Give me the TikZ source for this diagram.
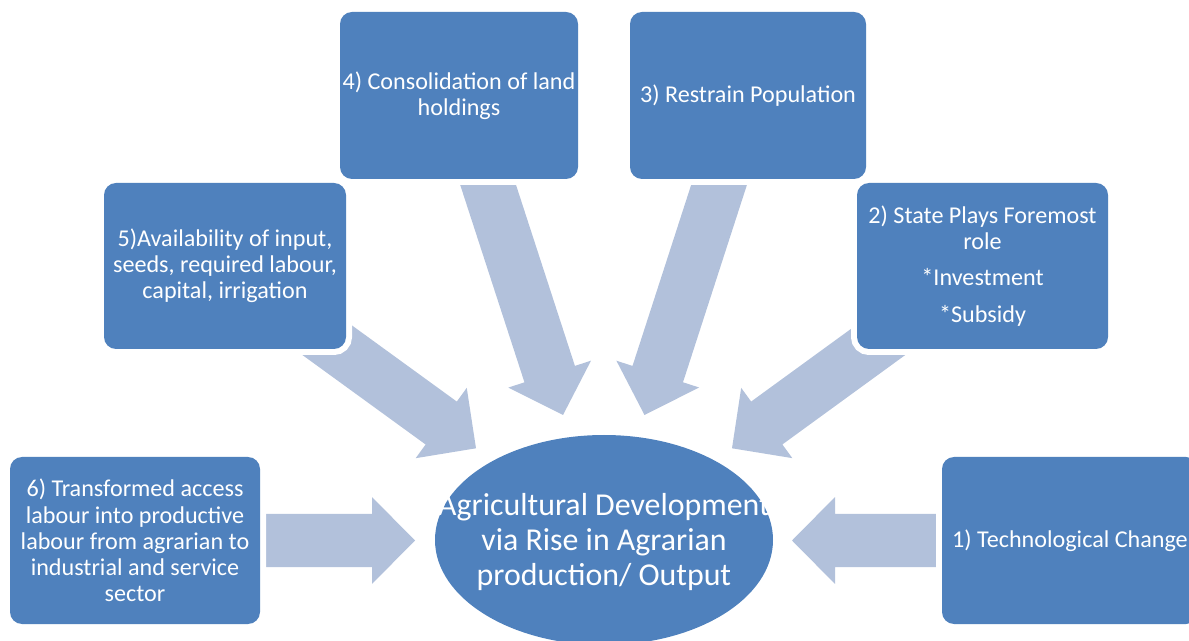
\documentclass[tikz,border=0pt]{standalone}
\usepackage{fontspec}
\setmainfont{Carlito}
\usetikzlibrary{shapes.geometric,calc}
\pgfdeclarelayer{background}
\pgfsetlayers{background,main}
\definecolor{boxblue}{HTML}{4F81BD}
\definecolor{arrowblue}{HTML}{B2C1DB}
\tikzset{
  box/.style={fill=boxblue, rounded corners=9pt, text=white, align=center,
    inner sep=0pt, font=\fontsize{18.1}{19.6}\selectfont,
    preaction={draw=white, line width=9pt}},
  hub/.style={ellipse, fill=boxblue, inner sep=0pt,
    minimum width=253.5pt, minimum height=157.5pt},
  hubtext/.style={text=white, align=center, inner sep=0pt,
    font=\fontsize{23.9}{26.6}\selectfont},
  arrowfill/.style={fill=arrowblue}
}
% block arrow: #1 name, #2 tail point, #3 tip point
\newcommand{\flowarrow}[3]{%
  \coordinate (#1-b) at ($(#3)!32.25pt!(#2)$);
  \fill[arrowfill] ($(#2)!19.9pt!90:(#3)$) -- ($(#1-b)!19.9pt!90:(#3)$)
    -- ($(#1-b)!32.6pt!90:(#3)$) -- (#3) -- ($(#1-b)!32.6pt!-90:(#3)$)
    -- ($(#1-b)!19.9pt!-90:(#3)$) -- ($(#2)!19.9pt!-90:(#3)$) -- cycle;}
\begin{document}
\begin{tikzpicture}[x=0.75pt,y=-0.75pt]
\clip (0,0) rectangle (1189,641);

\node[box, minimum width=238*0.75pt, minimum height=167*0.75pt] (b4) at (459,95.5)
  {4) Consolidation of land\\holdings};
\node[box, minimum width=236*0.75pt, minimum height=167*0.75pt] (b3) at (748,95.5)
  {3) Restrain Population};
\node[box, minimum width=242*0.75pt, minimum height=166*0.75pt] (b5) at (225,266)
  {5)Availability of input,\\seeds, required labour,\\capital, irrigation};
\node[box, minimum width=251*0.75pt, minimum height=166*0.75pt] (b2) at (982.5,266)
  {2) State Plays Foremost\\role\\[8pt]*Investment\\[8pt]*Subsidy};
\node[box, minimum width=250*0.75pt, minimum height=167*0.75pt] (b6) at (135,540.5)
  {6) Transformed access\\labour into productive\\labour from agrarian to\\industrial and service\\sector};
\node[box, minimum width=256*0.75pt, minimum height=167*0.75pt] (b1) at (1070,540.5)
  {1) Technological Change};

\node[hub] (hub) at (604,540) {};
\node[hubtext] (hublabel) at (604,542)
  {Agricultural Development\\via Rise in Agrarian\\production/ Output};

% arrow tips, just short of the central ellipse
\coordinate (p4) at (563,415);
\coordinate (p3) at (644.5,415);
\coordinate (p5) at (476,448.3);
\coordinate (p2) at (732,448.3);
\coordinate (p6) at (415,540.5);
\coordinate (p1) at (792,540.5);

\begin{pgfonlayer}{background}
  \flowarrow{a4}{b4.center}{p4}
  \flowarrow{a3}{b3.center}{p3}
  \flowarrow{a5}{b5.center}{p5}
  \flowarrow{a2}{b2.center}{p2}
  \flowarrow{a6}{b6.center}{p6}
  \flowarrow{a1}{b1.center}{p1}
\end{pgfonlayer}
\end{tikzpicture}
\end{document}
